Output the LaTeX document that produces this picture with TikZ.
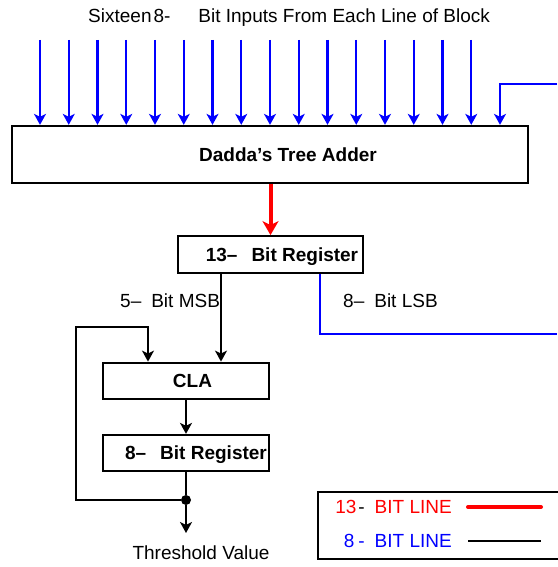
\documentclass[tikz,border=0pt]{standalone}
\usepackage{fontspec}
\setmainfont{Liberation Sans}
\usetikzlibrary{arrows.meta,positioning}
\tikzstyle{block}=[draw,line width=2.3pt,rectangle,inner sep=0pt,text height=13.6pt,text depth=0pt,font=\fontsize{19}{22}\selectfont\bfseries]
\tikzstyle{lbl}=[inner sep=0pt,text height=13.6pt,text depth=0pt,font=\fontsize{19}{22}\selectfont]
\tikzstyle{tip}=[-{Stealth[length=11pt,width=12pt,inset=3pt]}]
\tikzstyle{wire}=[line width=2.3pt,tip]
\tikzstyle{bus8}=[blue,line width=2.3pt]
\tikzstyle{bus13}=[red,line width=4pt,-{Stealth[length=14pt,width=16pt,inset=4pt]}]
\tikzstyle{solid node}=[circle,fill=black,inner sep=0pt,minimum size=10pt]

\begin{document}
\begin{tikzpicture}[x=1pt,y=-1pt]
\useasboundingbox (0,0) rectangle (557,567);

		\node[lbl,anchor=west] (title) at (88,16) {Sixteen\hspace{2pt}8-\hspace{28pt}Bit Inputs From Each Line of Block};

		% adder and its inputs
		\node[block,minimum width=516pt,minimum height=57pt] (dadda) at (270,154.5) {\hspace*{36pt}Dadda's Tree Adder};
		\foreach \i in {0,...,15}{
			\coordinate (in\i) at ({40+\i*28.75},40);
			\draw[bus8,tip] (in\i) -- (in\i |- dadda.north);
		}
		\coordinate (lsbin) at (557,84);
		\coordinate (lsbx) at (500,0);
		\draw[bus8,tip] (lsbin) -| (dadda.north -| lsbx);

		% 13 bit register
		\node[block,minimum width=185pt,minimum height=36.5pt] (reg13) at (270.5,254.5) {\hspace*{23pt}13--\hspace{14pt}Bit Register};
		\draw[bus13] (dadda.south -| reg13.north) -- (reg13.north);

		\node[block,minimum width=166pt,minimum height=36.5pt] (cla) at (186,381) {\hspace*{13pt}CLA};
		\node[block,minimum width=166pt,minimum height=36pt] (reg8) at (186,453) {\hspace*{20pt}8--\hspace{14pt}Bit Register};

		\coordinate (msbx) at (221,0);
		\draw[wire] (reg13.south -| msbx) -- (cla.north -| msbx);
		\node[lbl,anchor=west] (msb) at (120,301) {5--\hspace{10pt}Bit MSB};

		\coordinate (lsbdown) at (320,0);
		\coordinate (lsbout) at (557,334);
		\draw[bus8] (reg13.south -| lsbdown) |- (lsbout);
		\node[lbl,anchor=west] (lsb) at (343,301) {8--\hspace{10pt}Bit LSB};

		\draw[wire] (cla.south) -- (reg8.north);

		% output and feedback
		\node[solid node] (dot) at (186,500) {};
		\draw[line width=2.3pt] (reg8.south) -- (dot);
		\coordinate (thrtip) at (186,533);
		\draw[wire] (dot) -- (thrtip);
		\node[lbl] (thr) at (201,553) {Threshold Value};
		\coordinate (fbl) at (76,327);
		\coordinate (fbx) at (148,0);
		\draw[wire] (dot) -| (fbl) -| (cla.north -| fbx);

		% legend
		\node[draw,line width=2.3pt,inner sep=0pt,minimum width=260pt,minimum height=67.5pt] (legend) at (448,525.5) {};
		\node[lbl,red,anchor=east] (l13) at (452,507) {13\hspace{2pt}\textcolor{black}{-}\hspace{10pt}BIT LINE};
		\node[lbl,blue,anchor=east] (l8) at (452,541) {8\hspace{4pt}-\hspace{10pt}BIT LINE};
		\coordinate (k13a) at (468,507);
		\coordinate (k13b) at (541,507);
		\coordinate (k8a) at (468,541);
		\coordinate (k8b) at (541,541);
		\draw[red,line width=4pt,line cap=round] (k13a) -- (k13b);
		\draw[line width=2.3pt] (k8a) -- (k8b);

\end{tikzpicture}
\end{document}
